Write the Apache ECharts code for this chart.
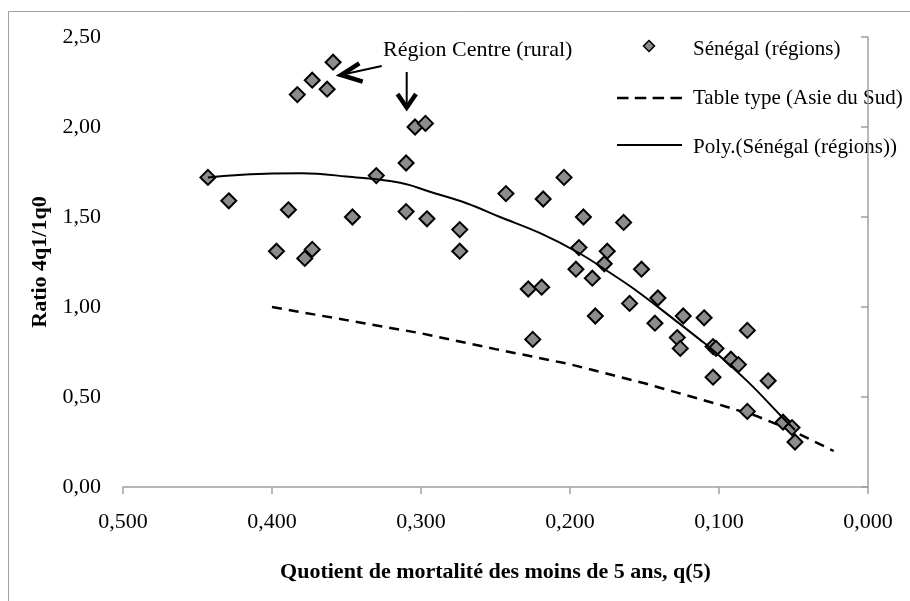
<!DOCTYPE html>
<html><head><meta charset="utf-8">
<script src="https://cdn.jsdelivr.net/npm/echarts@6/dist/echarts.min.js"></script>
<style>html,body{margin:0;padding:0;background:#fff}#c{width:910px;height:601px}</style>
</head><body><div id="c"></div>
<script>
// Sénégal (régions): q(5) and ratio 4q1/1q0
const q5 = [0.443,0.429,0.397,0.389,0.383,0.378,0.373,0.373,0.363,0.359,0.346,0.330,0.310,0.310,0.304,0.297,0.296,0.274,0.274,0.243,0.228,0.225,0.219,0.218,0.204,0.196,0.194,0.191,0.185,0.183,0.177,0.175,0.164,0.160,0.152,0.143,0.141,0.128,0.126,0.124,0.110,0.104,0.102,0.104,0.092,0.087,0.081,0.081,0.067,0.057,0.051,0.049];
const ratio = [1.72,1.59,1.31,1.54,2.18,1.27,2.26,1.32,2.21,2.36,1.50,1.73,1.80,1.53,2.00,2.02,1.49,1.43,1.31,1.63,1.10,0.82,1.11,1.60,1.72,1.21,1.33,1.50,1.16,0.95,1.24,1.31,1.47,1.02,1.21,0.91,1.05,0.83,0.77,0.95,0.94,0.78,0.77,0.61,0.71,0.68,0.87,0.42,0.59,0.36,0.33,0.25];
// Table type (Asie du Sud)
const tableQ = [0.400,0.350,0.300,0.250,0.200,0.150,0.100,0.075,0.050,0.023];
const tableRatio = [1.00,0.927,0.854,0.766,0.682,0.576,0.458,0.395,0.31,0.20];
// Poly.(Sénégal (régions)) trend curve
const polyQ = [0.443,0.420,0.400,0.380,0.350,0.314,0.294,0.269,0.247,0.220,0.194,0.175,0.157,0.130,0.113,0.104,0.080,0.059,0.049];
const polyRatio = [1.72,1.735,1.742,1.743,1.725,1.69,1.64,1.575,1.50,1.41,1.30,1.20,1.10,0.93,0.82,0.76,0.58,0.40,0.317];
// tick labels
const xTickValues = [0,0.1,0.2,0.3,0.4,0.5];
const xTickLabels = ['0,000','0,100','0,200','0,300','0,400','0,500'];
const yTickValues = [0,0.5,1,1.5,2,2.5];
const yTickLabels = ['0,00','0,50','1,00','1,50','2,00','2,50'];
const seriesNames = ['Sénégal (régions)','Table type (Asie du Sud)','Poly.(Sénégal (régions))'];

const FONT = 'Liberation Serif';
const axisGray = '#a0a0a0';
const zip = (a,b) => a.map((v,i)=>[v,b[i]]);
const lookup = (vals, labels) => v => { const i = vals.findIndex(t => Math.abs(t - v) < 1e-9); return i >= 0 ? labels[i] : ''; };
const txt = (s, x, y, size) => ({type:'text', x:x, y:y, silent:true,
  style:{text:s, font:size + 'px "Liberation Serif"', fill:'#000', verticalAlign:'middle', align:'left'}});

const chart = echarts.init(document.getElementById('c'), null, {renderer:'canvas'});
chart.setOption({
  animation:false,
  backgroundColor:'#fff',
  textStyle:{fontFamily:FONT},
  grid:{left:123, right:42, top:37, bottom:114},
  xAxis:{type:'value', inverse:true, min:0, max:0.5, interval:0.1,
    name:'Quotient de mortalité des moins de 5 ans, q(5)', nameLocation:'middle', nameGap:74,
    nameTextStyle:{fontFamily:FONT, fontWeight:'bold', fontSize:22, color:'#000'},
    axisLine:{lineStyle:{color:axisGray, width:1.5}},
    axisTick:{length:7, lineStyle:{color:axisGray, width:1.5}},
    axisLabel:{formatter:lookup(xTickValues,xTickLabels), margin:24, fontFamily:FONT, fontSize:22, color:'#000'},
    splitLine:{show:false}},
  yAxis:{type:'value', min:0, max:2.5, interval:0.5,
    name:'Ratio 4q1/1q0', nameLocation:'middle', nameGap:37,
    nameTextStyle:{fontFamily:FONT, fontWeight:'bold', fontSize:22, color:'#000'},
    axisLine:{show:true, lineStyle:{color:axisGray, width:1.5}},
    axisTick:{show:true, length:7, lineStyle:{color:axisGray, width:1.5}},
    axisLabel:{formatter:lookup(yTickValues,yTickLabels), margin:22, fontFamily:FONT, fontSize:22, color:'#000'},
    splitLine:{show:false}},
  series:[
    {name:seriesNames[1], type:'line', data:zip(tableQ,tableRatio), symbol:'none', z:1,
      lineStyle:{color:'#000', width:2.5, type:[10,7]}, itemStyle:{color:'#000'}},
    {name:seriesNames[0], type:'scatter', data:zip(q5,ratio), symbol:'diamond', symbolSize:15, z:2,
      itemStyle:{color:'#8c8c8c', borderColor:'#000', borderWidth:2, opacity:1}},
    {name:seriesNames[2], type:'line', data:zip(polyQ,polyRatio), symbol:'none', smooth:0.4, z:3,
      lineStyle:{color:'#000', width:2}, itemStyle:{color:'#000'}}
  ],
  graphic:[
    {type:'rect', silent:true, shape:{x:8.5, y:11.5, width:1200, height:1200}, style:{fill:null, stroke:axisGray, lineWidth:1}},
    // legend
    {type:'polygon', silent:true, shape:{points:[[649,40.5],[654.5,46],[649,51.5],[643.5,46]]}, style:{fill:'#8c8c8c', stroke:'#000', lineWidth:1.5}},
    txt(seriesNames[0], 693, 49, 21),
    {type:'line', silent:true, shape:{x1:617, y1:98, x2:682, y2:98}, style:{stroke:'#000', lineWidth:2.5, lineDash:[11.5,6.3]}},
    txt(seriesNames[1], 693, 98.5, 21),
    {type:'line', silent:true, shape:{x1:617, y1:145, x2:682, y2:145}, style:{stroke:'#000', lineWidth:2}},
    txt(seriesNames[2], 693, 147.5, 21),
    // annotation
    txt('Région Centre (rural)', 383, 50, 22),
    {type:'line', silent:true, shape:{x1:381.7, y1:66, x2:343, y2:74.5}, style:{stroke:'#000', lineWidth:2}},
    {type:'polyline', silent:true, shape:{points:[[359.3,63.3],[341,75],[362.7,81.7]]}, style:{stroke:'#000', lineWidth:4.5, fill:null, lineJoin:'miter'}},
    {type:'line', silent:true, shape:{x1:406.7, y1:72, x2:406.7, y2:105}, style:{stroke:'#000', lineWidth:2}},
    {type:'polyline', silent:true, shape:{points:[[397.5,94],[406.7,107.5],[416,94]]}, style:{stroke:'#000', lineWidth:4.5, fill:null, lineJoin:'miter'}}
  ]
});
</script>
</body></html>
